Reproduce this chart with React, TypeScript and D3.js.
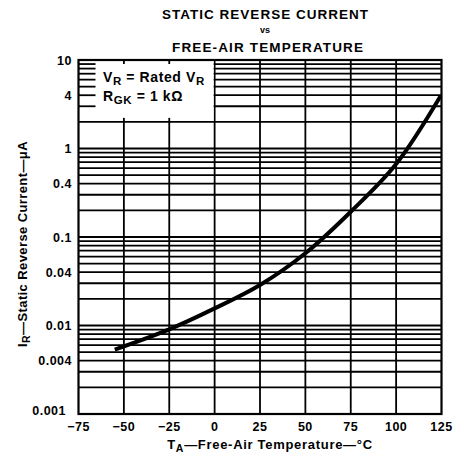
import React from "react";
import * as d3 from "d3";

const temps = [-55, -25, 0, 25, 50, 75, 100, 124.5];
const currents = [0.00535, 0.00905, 0.0156, 0.0287, 0.0655, 0.193, 0.668, 3.92];
const xTicks = [-75, -50, -25, 0, 25, 50, 75, 100, 125];
const yTickValues = [10, 4, 1, 0.4, 0.1, 0.04, 0.01, 0.004, 0.001];
const yTickLabels = ["10", "4", "1", "0.4", "0.1", "0.04", "0.01", "0.004", "0.001"];

const W = 456, H = 456;
const L = 78.5, R = 441.5, T = 60, B = 414;
const FONT = "'Liberation Sans', Arial, Helvetica, sans-serif";

export default function App() {
  const x = d3.scaleLinear().domain([-75, 125]).range([L, R]);
  const y = d3.scaleLog().domain([0.001, 10]).range([B, T]);

  const gridVals: number[] = [];
  for (let e = -3; e <= 0; e++) {
    for (let m = 1; m <= 9; m++) {
      const v = m * Math.pow(10, e);
      if (v > 0.001 && v < 10) gridVals.push(v);
    }
  }
  const boxBottom = y(2);
  const boxRight = x(0);
  const boxTicks = [3, 4, 5, 6, 7, 8, 9];

  const line = d3
    .line<number>()
    .x((_, i) => x(temps[i]))
    .y((d) => y(d))
    .curve(d3.curveCatmullRom.alpha(0.5));

  return (
    <svg
      width={W}
      height={H}
      style={{ position: "absolute", left: 0, top: 0, background: "#fff" }}
      fontFamily={FONT}
    >
      <rect x={0} y={0} width={W} height={H} fill="#fff" />
      {/* Title */}
      <text x={162} y={19} fontSize={13.5} fontWeight="bold" textLength={206} lengthAdjust="spacing">
        STATIC REVERSE CURRENT
      </text>
      <text x={265} y={33} textAnchor="middle" fontSize={9} fontWeight="bold">
        vs
      </text>
      <text x={172} y={51.5} fontSize={13.5} fontWeight="bold" textLength={191} lengthAdjust="spacing">
        FREE-AIR TEMPERATURE
      </text>

      {/* horizontal grid */}
      {gridVals.map((v, i) => (
        <line key={"h" + i} x1={L} x2={R} y1={y(v)} y2={y(v)} stroke="#000" strokeWidth={1.8} />
      ))}
      {/* vertical grid */}
      {xTicks.slice(1, -1).map((t) => (
        <line key={"v" + t} x1={x(t)} x2={x(t)} y1={T} y2={B} stroke="#000" strokeWidth={1.8} />
      ))}

      {/* legend box */}
      <rect x={L + 1} y={T + 1} width={boxRight - L - 2} height={boxBottom - T - 2} fill="#fff" />
      {boxTicks.map((v) => (
        <line key={"bt" + v} x1={L} x2={L + 17} y1={y(v)} y2={y(v)} stroke="#000" strokeWidth={1.8} />
      ))}
      {[-50, -25].map((t) => (
        <g key={"st" + t}>
          <line x1={x(t)} x2={x(t)} y1={T} y2={T + 4} stroke="#000" strokeWidth={1.8} />
          <line x1={x(t)} x2={x(t)} y1={boxBottom - 4} y2={boxBottom} stroke="#000" strokeWidth={1.8} />
        </g>
      ))}
      <text x={103} y={82} fontSize={14} fontWeight="bold" letterSpacing={0.6}>
        V<tspan fontSize={11.5} dy={3}>R</tspan>
        <tspan dy={-3}> = Rated V</tspan>
        <tspan fontSize={11.5} dy={3}>R</tspan>
      </text>
      <text x={103} y={101} fontSize={14} fontWeight="bold" letterSpacing={0.6}>
        R<tspan fontSize={11.5} dy={3}>GK</tspan>
        <tspan dy={-3}> = 1 kΩ</tspan>
      </text>

      {/* border */}
      <rect x={L} y={T} width={R - L} height={B - T} fill="none" stroke="#000" strokeWidth={2.2} />

      {/* curve */}
      <path d={line(currents) || ""} fill="none" stroke="#000" strokeWidth={4} strokeLinecap="butt" />

      {/* y tick labels */}
      {yTickValues.map((v, i) => (
        <text
          key={"yl" + i}
          x={v === 0.001 ? 66 : 72}
          y={v === 0.001 ? y(v) + 1 : y(v) + 4.5}
          textAnchor="end"
          fontSize={12.5}
          fontWeight="bold"
          letterSpacing={0.5}
        >
          {yTickLabels[i]}
        </text>
      ))}
      {/* x tick labels */}
      {xTicks.map((t) => (
        <text key={"xl" + t} x={x(t)} y={431} textAnchor="middle" fontSize={12.5} fontWeight="bold" letterSpacing={0.5}>
          {t < 0 ? "\u2212" + Math.abs(t) : String(t)}
        </text>
      ))}

      {/* x axis label */}
      <text x={270} y={449} textAnchor="middle" fontSize={13} fontWeight="bold" letterSpacing={0.7}>
        T<tspan fontSize={10.5} dy={3}>A</tspan>
        <tspan dy={-3}>—Free-Air Temperature—°C</tspan>
      </text>
      {/* y axis label */}
      <text
        transform={`translate(27,244) rotate(-90)`}
        textAnchor="middle"
        fontSize={13}
        fontWeight="bold"
        letterSpacing={0.4}
      >
        I<tspan fontSize={10.5} dy={3}>R</tspan>
        <tspan dy={-3}>—Static Reverse Current—μA</tspan>
      </text>
    </svg>
  );
}
